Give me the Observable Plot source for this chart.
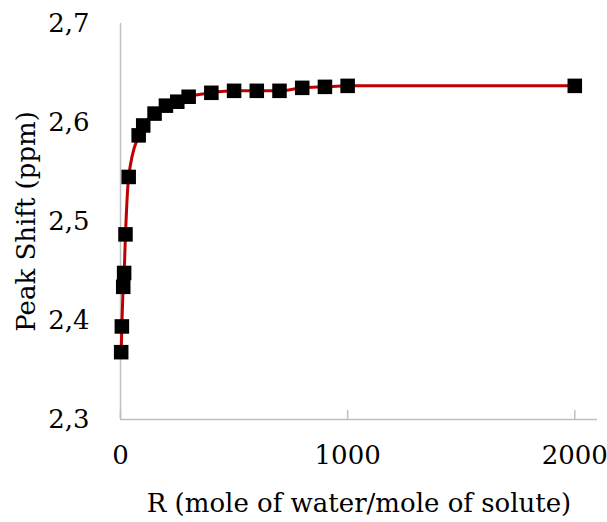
<!DOCTYPE html>
<html>
<head>
<meta charset="utf-8">
<script src="https://cdn.jsdelivr.net/npm/d3@7"></script>
<script src="https://cdn.jsdelivr.net/npm/@observablehq/plot@0.6"></script>
<style>
  html, body { margin: 0; padding: 0; background: #fff; }
</style>
</head>
<body>
<div id="chart"></div>
<script>
const ratioR = [3, 6, 12, 16, 22, 36, 80, 100, 150, 200, 250, 300, 400, 500, 600, 700, 800, 900, 1000, 2000];
const peakShift = [2.368, 2.394, 2.434, 2.448, 2.487, 2.545, 2.587, 2.597, 2.609, 2.617, 2.621, 2.626, 2.630, 2.632, 2.632, 2.632, 2.635, 2.636, 2.637, 2.637];
const xTicks = [0, 1000, 2000];
const yTicks = [2.3, 2.4, 2.5, 2.6, 2.7];
const xTitle = "R (mole of water/mole of solute)";
const yTitle = "Peak Shift (ppm)";

const data = ratioR.map((r, i) => ({r, s: peakShift[i]}));
const axisGrey = "#bfbfbf";
const serif = "DejaVu Serif";

const chart = Plot.plot({
  width: 607,
  height: 522,
  marginLeft: 120,
  marginRight: 10,
  marginTop: 23,
  marginBottom: 103,
  style: {fontFamily: serif, fontSize: "26px", color: "black", background: "white"},
  x: {domain: [0, 2100]},
  y: {domain: [2.3, 2.7]},
  marks: [
    Plot.ruleX([0], {stroke: axisGrey, strokeWidth: 1.5}),
    Plot.ruleY([2.3], {stroke: axisGrey, strokeWidth: 1.5}),
    Plot.axisX({ticks: xTicks, tickSize: 9, dy: -9, text: null, stroke: axisGrey, strokeWidth: 1.5, label: null}),
    Plot.axisX({ticks: xTicks, tickSize: 0, tickPadding: 26, tickFormat: d => String(d), fontFamily: serif, fontSize: 26,
      label: xTitle, labelAnchor: "center", labelArrow: "none", labelOffset: 92}),
    Plot.axisY({ticks: yTicks, tickSize: 0, tickPadding: 31, tickFormat: d => d.toFixed(1).replace(".", ","), fontFamily: serif, fontSize: 26,
      label: yTitle, labelAnchor: "center", labelArrow: "none", labelOffset: 104}),
    Plot.line(data, {x: "r", y: "s", stroke: "#c00000", strokeWidth: 3, curve: "monotone-x"}),
    Plot.dot(data, {x: "r", y: "s", symbol: "square", r: 8.2, fill: "black", stroke: "none"})
  ]
});
d3.select(chart).selectAll("text, g").attr("font-family", serif).style("font-family", serif);
document.getElementById("chart").appendChild(chart);
</script>
</body>
</html>
